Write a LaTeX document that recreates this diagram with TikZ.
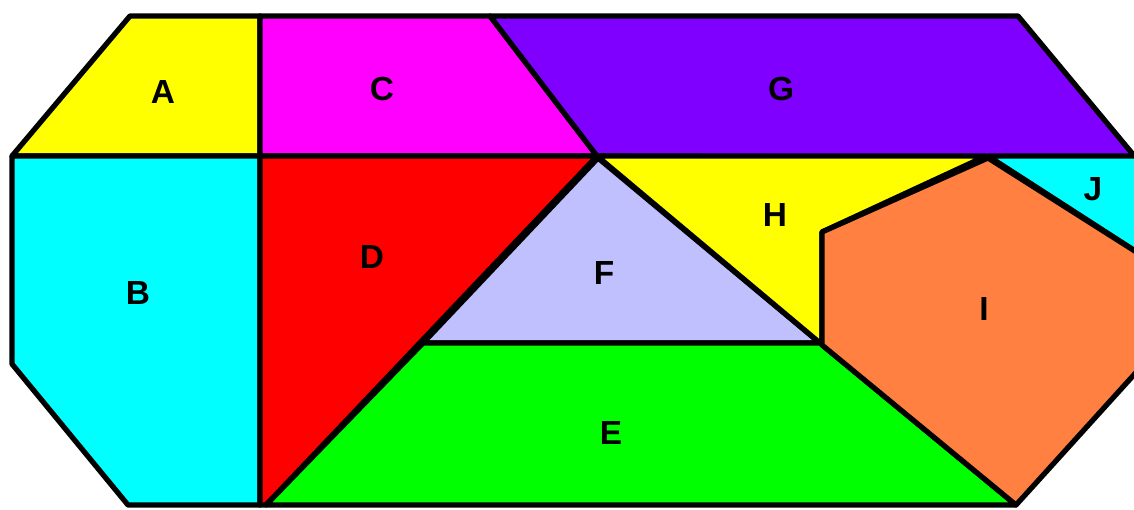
\documentclass[tikz,border=0pt]{standalone}
\usepackage{fontspec}
\setmainfont{Liberation Sans}
\usepackage{tikz}
\definecolor{pcyellow}{RGB}{255,255,0}
\definecolor{pcmagenta}{RGB}{255,0,255}
\definecolor{pcviolet}{RGB}{128,0,255}
\definecolor{pccyan}{RGB}{0,255,255}
\definecolor{pcred}{RGB}{255,0,0}
\definecolor{pclavender}{RGB}{192,192,255}
\definecolor{pcgreen}{RGB}{0,255,0}
\definecolor{pcorange}{RGB}{255,128,64}
\begin{document}
\begin{tikzpicture}[
  x=0.01cm, y=-0.01cm,
  piece/.style={draw=black, line width=1.5pt, line join=round},
  lbl/.style={font=\fontsize{9.5}{10}\selectfont\bfseries, inner sep=0pt},
]
\useasboundingbox (0,0) rectangle (1134,509);
\clip (0,0) rectangle (1134,509);
% top row
\draw[piece, fill=pcyellow] (130,16) -- (260,16) -- (260,156) -- (12,156) -- cycle;
\draw[piece, fill=pcmagenta] (260,16) -- (490,16) -- (597,156) -- (260,156) -- cycle;
\draw[piece, fill=pcviolet] (490,16) -- (1018,16) -- (1136,158) -- (597,156) -- cycle;
% left
\draw[piece, fill=pccyan] (12,156) -- (260,156) -- (260,505) -- (128,505) -- (12,364) -- cycle;
\draw[piece, fill=pcred] (260,156) -- (597,156) -- (266,505) -- (260,505) -- cycle;
% middle
\draw[piece, fill=pclavender] (598,158) -- (820,343) -- (423,343) -- cycle;
\draw[piece, fill=pcgreen] (423,343) -- (820,343) -- (1016,505) -- (266,505) -- cycle;
\draw[piece, fill=pcyellow] (597,156) -- (986,156) -- (822,232) -- (822,343) -- (820,343) -- cycle;
% right
\draw[piece, fill=pccyan] (988,156) -- (1160,156) -- (1160,267) -- cycle;
\draw[piece, fill=pcorange] (822,232) -- (988,158) -- (1160,267) -- (1160,346) -- (1016,505) -- (822,345) -- cycle;
% labels
\node[lbl] (labA) at (163,92) {A};
\node[lbl] (labC) at (382,89) {C};
\node[lbl] (labG) at (781,89) {G};
\node[lbl] (labB) at (138,293) {B};
\node[lbl] (labD) at (372,257) {D};
\node[lbl] (labF) at (604,273) {F};
\node[lbl] (labH) at (775,215) {H};
\node[lbl] (labI) at (984,309) {I};
\node[lbl] (labJ) at (1093,189) {J};
\node[lbl] (labE) at (611,433) {E};
\end{tikzpicture}
\end{document}
